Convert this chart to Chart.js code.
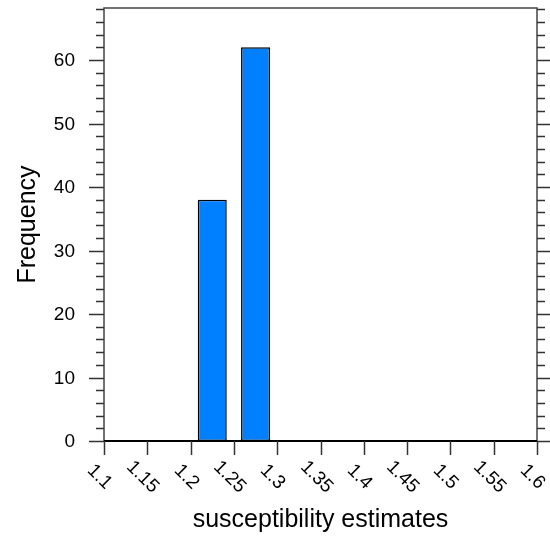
<!DOCTYPE html>
<html>
<head>
<meta charset="utf-8">
<script src="https://cdn.jsdelivr.net/npm/chart.js@4/dist/chart.umd.min.js"></script>
<style>
  body { margin: 0; background: #fff; }
  #histContainer { width: 550px; height: 536px; }
</style>
</head>
<body>
<div id="histContainer">
  <canvas id="histChart" width="550" height="536"></canvas>
</div>
<script>
// histogram bins (centres) and counts
const binCenters = [1.125, 1.175, 1.225, 1.275, 1.325, 1.375, 1.425, 1.475, 1.525, 1.575];
const counts = [0, 0, 38, 62, 0, 0, 0, 0, 0, 0];
const xTickLabels = ["1.1", "1.15", "1.2", "1.25", "1.3", "1.35", "1.4", "1.45", "1.5", "1.55", "1.6"];
const yTickLabels = [0, 10, 20, 30, 40, 50, 60];
const yMinorStep = 2;

const FONT = "'Liberation Sans', Arial, Helvetica, sans-serif";

// draws the NCL-ish frame, ticks and labels
const axesPlugin = {
  id: "axesPlugin",
  afterDraw(chart) {
    const ctx = chart.ctx;
    const area = chart.chartArea;
    const xs = chart.scales.x;
    const ys = chart.scales.y;

    ctx.save();
    // frame
    ctx.strokeStyle = "#444";
    ctx.lineWidth = 1.5;
    ctx.strokeRect(area.left, area.top, area.right - area.left, area.bottom - area.top);
    ctx.strokeStyle = "#000";
    ctx.lineWidth = 2;
    ctx.beginPath();
    ctx.moveTo(area.left, area.bottom);
    ctx.lineTo(area.right, area.bottom);
    ctx.stroke();

    // y ticks, left and right, minor every 2
    ctx.lineWidth = 1.5;
    ctx.strokeStyle = "#333";
    for (let v = 0; v <= ys.max; v += yMinorStep) {
      const y = Math.round(ys.getPixelForValue(v)) + 0.5;
      const len = v % 10 === 0 ? 15 : 8;
      ctx.beginPath();
      ctx.moveTo(area.left - len, y);
      ctx.lineTo(area.left, y);
      ctx.moveTo(area.right, y);
      ctx.lineTo(area.right + len, y);
      ctx.stroke();
    }

    ctx.fillStyle = "#000";
    ctx.font = "19px " + FONT;
    ctx.textAlign = "right";
    ctx.textBaseline = "middle";
    yTickLabels.forEach((v) => {
      ctx.fillText(String(v), area.left - 29, ys.getPixelForValue(v) + 1);
    });

    // x ticks + rotated labels
    xTickLabels.forEach((lbl) => {
      const x = Math.round(xs.getPixelForValue(parseFloat(lbl))) + 0.5;
      ctx.beginPath();
      ctx.moveTo(x, area.bottom);
      ctx.lineTo(x, area.bottom + 14);
      ctx.stroke();

      ctx.save();
      ctx.translate(x - 5, area.bottom + 36);
      ctx.rotate(Math.PI / 4);
      ctx.textAlign = "center";
      ctx.textBaseline = "middle";
      ctx.font = "19px " + FONT;
      ctx.fillText(lbl, 0, 0);
      ctx.restore();
    });

    // axis titles
    ctx.font = "25px " + FONT;
    ctx.textAlign = "center";
    ctx.textBaseline = "middle";
    ctx.fillText("susceptibility estimates", (area.left + area.right) / 2, 520);
    ctx.save();
    ctx.translate(28, (area.top + area.bottom) / 2);
    ctx.rotate(-Math.PI / 2);
    ctx.fillText("Frequency", 0, 0);
    ctx.restore();
    ctx.restore();
  }
};

const histCtx = document.getElementById("histChart").getContext("2d");
new Chart(histCtx, {
  type: "bar",
  data: {
    datasets: [
      {
        data: binCenters.map((c, i) => ({ x: c, y: counts[i] })),
        backgroundColor: "#0080ff",
        borderColor: "#000",
        borderWidth: 1.5,
        borderSkipped: false,
        barPercentage: 0.67,
        categoryPercentage: 1.0,
      },
    ],
  },
  options: {
    responsive: false,
    animation: false,
    layout: { padding: { left: 104, right: 13, top: 8, bottom: 95 } },
    plugins: { legend: { display: false }, tooltip: { enabled: false } },
    scales: {
      x: {
        type: "linear",
        min: 1.1,
        max: 1.6,
        offset: false,
        display: false,
        grid: { offset: false },
      },
      y: {
        min: 0,
        max: 68.2,
        display: false,
      },
    },
  },
  plugins: [axesPlugin],
});
</script>
</body>
</html>
